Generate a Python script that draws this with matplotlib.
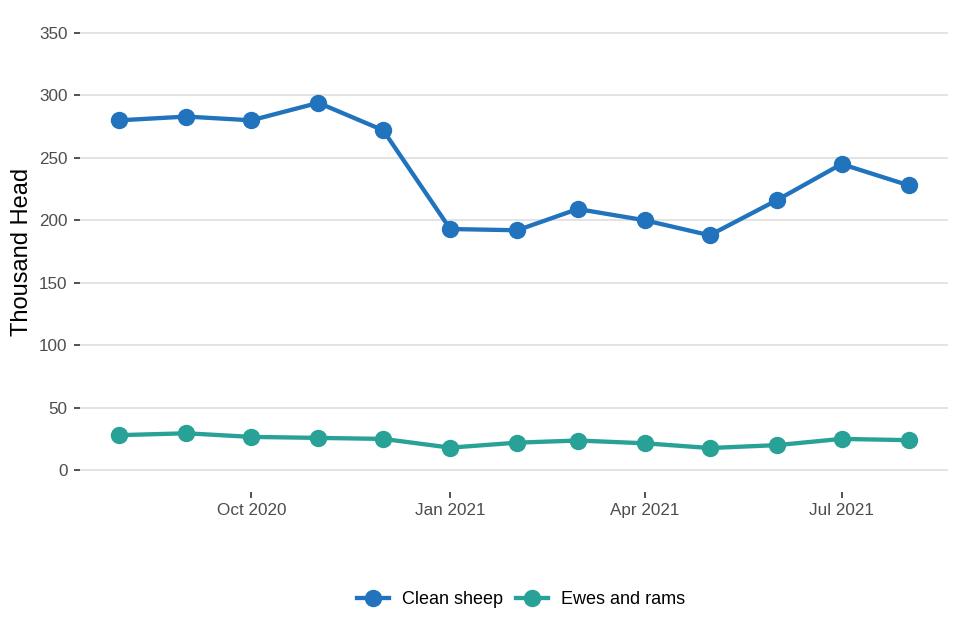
import matplotlib
matplotlib.use("Agg")
import matplotlib.pyplot as plt
import matplotlib.dates as mdates
import pandas as pd

months = pd.date_range("2020-08-01", "2021-08-01", freq="MS")
clean_sheep = [280, 283, 280, 294, 272, 193, 192, 209, 200, 188, 216, 245, 228]
ewes_and_rams = [28, 29.5, 26.6, 25.8, 25, 18, 22, 23.7, 21.5, 17.7, 20, 25, 24]
series_names = ["Clean sheep", "Ewes and rams"]
colors = ["#2073BC", "#28A197"]
tick_dates = pd.to_datetime(["2020-10-01", "2021-01-01", "2021-04-01", "2021-07-01"])
tick_labels = ["Oct 2020", "Jan 2021", "Apr 2021", "Jul 2021"]
y_ticks = [0, 50, 100, 150, 200, 250, 300, 350]

plt.rcParams['font.family'] = ['Liberation Sans', 'DejaVu Sans']

fig = plt.figure(figsize=(9.6, 6.4), dpi=100)
ax = fig.add_axes([80/960, 1-492/640, (948-80)/960, (492-11)/640])

for name, vals, c in zip(series_names, [clean_sheep, ewes_and_rams], colors):
    ax.plot(months, vals, color=c, lw=3.1, marker="o", markersize=11.5, label=name,
            solid_joinstyle="round", zorder=3)

span = months[-1] - months[0]
ax.set_xlim(months[0] - span * 0.05, months[-1] + span * 0.05)
ax.set_ylim(-17.5, 367.5)
ax.set_yticks(y_ticks)
ax.set_yticklabels([str(v) for v in y_ticks])
ax.set_xticks(tick_dates)
ax.set_xticklabels(tick_labels)

ax.grid(axis="y", color="#e3e3e3", lw=1.4)
ax.grid(axis="x", visible=False)
ax.set_axisbelow(True)
for s in ax.spines.values():
    s.set_visible(False)
ax.tick_params(axis="both", colors="#333333", labelcolor="#4d4d4d", labelsize=12.3,
               length=4, width=1.2)
ax.tick_params(axis="y", pad=5)
ax.tick_params(axis="x", pad=4)
ax.set_ylabel("Thousand Head", fontsize=17, color="black", labelpad=4)

fig.legend(loc="center", bbox_to_anchor=(521/960, 1-600/640), ncol=2, frameon=False,
           fontsize=13, handlelength=1.8, columnspacing=0.7, handletextpad=0.7)

fig.savefig("out.png", dpi=100, facecolor="white")
